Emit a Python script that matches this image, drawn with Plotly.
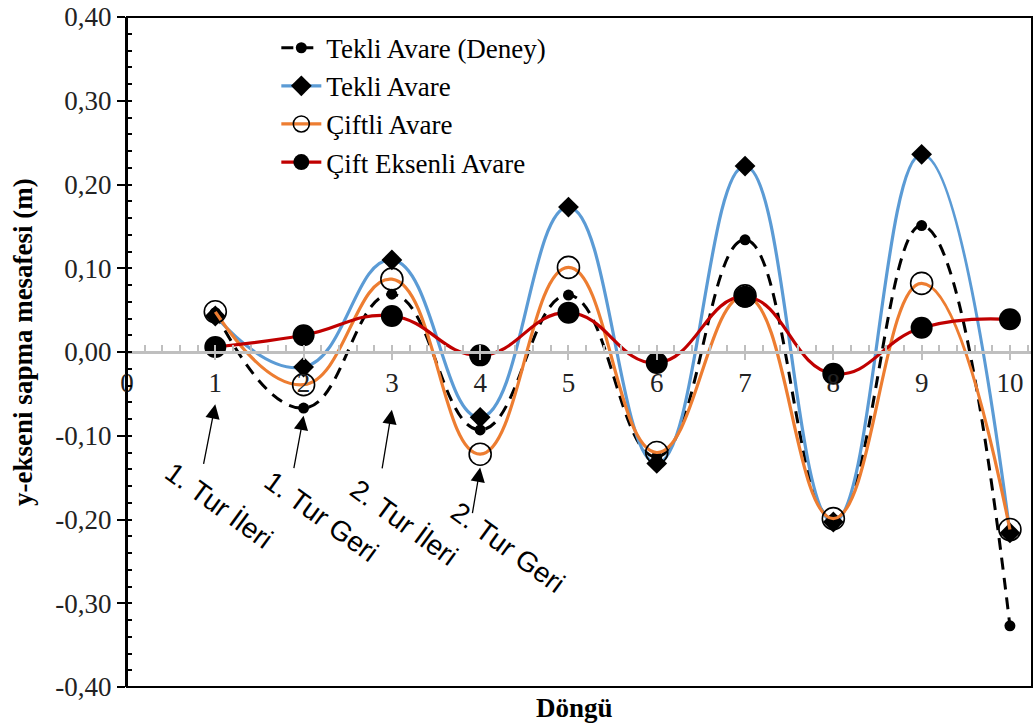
import plotly.graph_objects as go

cycles = [1, 2, 3, 4, 5, 6, 7, 8, 9, 10]
tekli_deney = [0.047, -0.067, 0.069, -0.093, 0.068, -0.125, 0.134, -0.200, 0.151, -0.327]
tekli = [0.043, -0.018, 0.110, -0.078, 0.173, -0.133, 0.222, -0.203, 0.236, -0.216]
ciftli = [0.048, -0.039, 0.087, -0.122, 0.101, -0.120, 0.067, -0.199, 0.082, -0.212]
cift_eksenli = [0.006, 0.020, 0.043, -0.004, 0.047, -0.013, 0.066, -0.026, 0.029, 0.039]

x_ticks = list(range(0, 11))
y_ticks = [-0.4, -0.3, -0.2, -0.1, 0.0, 0.1, 0.2, 0.3, 0.4]
y_tick_labels = ["-0,40", "-0,30", "-0,20", "-0,10", "0,00", "0,10", "0,20", "0,30", "0,40"]

labels = ["1. Tur İleri", "1. Tur Geri", "2. Tur İleri", "2. Tur Geri"]
label_targets_x = [1, 2, 3, 4]
label_targets_y = [-0.0625, -0.076, -0.069, -0.138]
label_text_x = [1.042, 2.197, 3.137, 4.315]
label_text_y = [-0.183, -0.197, -0.203, -0.233]
arrow_dx = [-12, -10, -10, -8]
arrow_dy = [61, 54, 60, 47]

SERIF = "Liberation Serif"
SANS = "Liberation Sans"

fig = go.Figure()
fig.add_trace(go.Scatter(
    x=cycles, y=tekli_deney, name="Tekli Avare (Deney)", mode="lines+markers",
    line=dict(color="black", width=3, dash="12px,8px", shape="spline", smoothing=1.3),
    marker=dict(symbol="circle", size=11, color="black"), legendgroup="a"))
fig.add_trace(go.Scatter(
    x=cycles, y=tekli, name="Tekli Avare", mode="lines+markers",
    line=dict(color="#5B9BD5", width=3.2, shape="spline", smoothing=1.3),
    marker=dict(symbol="diamond", size=16, color="black"), legendgroup="b"))
fig.add_trace(go.Scatter(
    x=cycles, y=ciftli, name="Çiftli Avare", mode="lines+markers",
    line=dict(color="#ED7D31", width=3.2, shape="spline", smoothing=1.3),
    marker=dict(symbol="circle-open", size=22, color="black", line=dict(width=1.6, color="black")),
    legendgroup="c"))
fig.add_trace(go.Scatter(
    x=cycles, y=cift_eksenli, name="Çift Eksenli Avare", mode="lines+markers",
    line=dict(color="#C00000", width=3.2, shape="spline", smoothing=1.3),
    marker=dict(symbol="circle", size=22, color="black"), legendgroup="d"))

# invisible helper trace for overlay axis (major tick marks crossing zero line)
fig.add_trace(go.Scatter(x=[0], y=[0], xaxis="x2", mode="markers",
                         marker=dict(opacity=0), showlegend=False, hoverinfo="skip"))

for i, t in enumerate(labels):
    fig.add_annotation(x=label_targets_x[i], y=label_targets_y[i], ax=arrow_dx[i], ay=arrow_dy[i],
                       text="", showarrow=True, arrowhead=2, arrowsize=2.2, arrowwidth=1.3,
                       arrowcolor="black", xref="x", yref="y")
    fig.add_annotation(x=label_text_x[i], y=label_text_y[i], text=t, showarrow=False,
                       textangle=36, font=dict(family=SANS, size=28, color="black"),
                       xref="x", yref="y")

fig.add_annotation(x=0.494, y=-0.031, xref="paper", yref="paper", text="<b>Döngü</b>",
                   showarrow=False, font=dict(family=SERIF, size=27, color="black"),
                   yanchor="middle")
fig.add_annotation(x=-0.115, y=0.515, xref="paper", yref="paper",
                   text="<b>y-ekseni sapma mesafesi (m)</b>", textangle=-90,
                   showarrow=False, font=dict(family=SERIF, size=27, color="black"),
                   xanchor="center", yanchor="middle")

fig.add_shape(type="rect", xref="paper", yref="paper", x0=0, x1=1, y0=0, y1=1,
              line=dict(color="black", width=2), layer="above")

fig.update_layout(
    width=1034, height=725,
    margin=dict(l=127, r=2, t=14, b=38),
    paper_bgcolor="white", plot_bgcolor="white",
    showlegend=True,
    legend=dict(x=0.165, y=0.99, xanchor="left", yanchor="top",
                font=dict(family=SERIF, size=27, color="black"),
                bgcolor="rgba(0,0,0,0)", tracegroupgap=0, itemwidth=40),
    xaxis=dict(range=[0, 10.25], anchor="free", position=0.5, tickvals=x_ticks,
               showgrid=False, zeroline=False, showline=True, linecolor="#BFBFBF", linewidth=2.5,
               ticks="outside", ticklen=6, tickwidth=2, tickcolor="#BFBFBF",
               tickfont=dict(family=SERIF, size=27, color="#222222"),
               minor=dict(dtick=0.2, ticks="inside", ticklen=6, tickwidth=2, tickcolor="#BFBFBF")),
    xaxis2=dict(range=[0, 10.25], overlaying="x", anchor="free", position=0.5, tickvals=x_ticks,
                showgrid=False, zeroline=False, showline=False, showticklabels=False,
                ticks="inside", ticklen=6, tickwidth=2, tickcolor="#BFBFBF"),
    yaxis=dict(range=[-0.4, 0.4], tickvals=y_ticks, ticktext=y_tick_labels,
               ticklabeloverflow="allow",
               showgrid=False, zeroline=False, showline=True, linecolor="black", linewidth=2,
               ticks="outside", ticklen=8, tickwidth=2, tickcolor="black",
               tickfont=dict(family=SERIF, size=27, color="#222222"),
               minor=dict(dtick=0.02, ticks="inside", ticklen=5, tickwidth=2, tickcolor="black")),
)

fig.write_html("out.html", config={"displayModeBar": False},
               post_script="document.body.style.margin='0px';")
